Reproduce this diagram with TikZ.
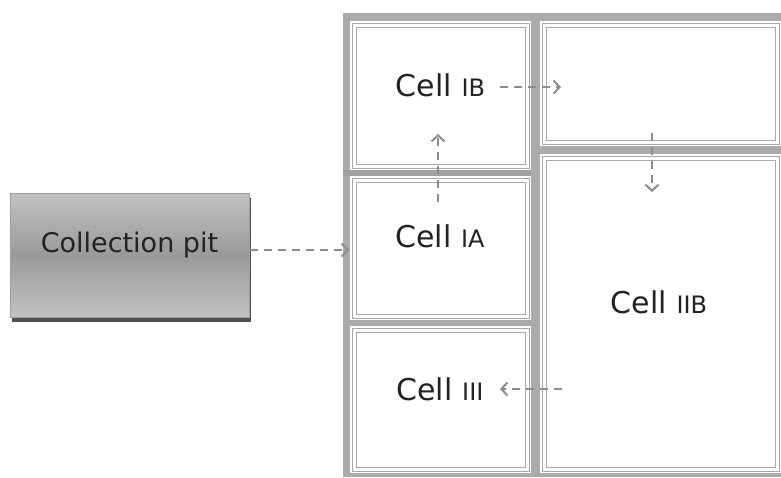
\documentclass[tikz,border=0pt]{standalone}
\usepackage{fontspec}
\setmainfont{DejaVu Sans}
\usetikzlibrary{arrows.meta,shadows}

\definecolor{framegray}{HTML}{ABABAB}
\definecolor{banddark}{HTML}{A0A0A0}
\definecolor{cellline}{HTML}{A8A8A8}
\definecolor{flowgray}{HTML}{8C8C8C}
\definecolor{pitedge}{HTML}{9E9E9E}
\definecolor{pitlight}{HTML}{C2C2C2}
\definecolor{pitdark}{HTML}{9A9A9A}
\definecolor{pitshadow}{HTML}{505050}
\definecolor{inktext}{HTML}{222222}

\newcommand\smallcap[1]{{\fontsize{24}{24}\selectfont #1}}

\begin{document}
\begin{tikzpicture}[x=1pt,y=-1pt,
  cellbox/.style={draw=cellline, line width=1pt, double=white,
    double distance=3pt, inner sep=0pt, outer sep=0pt},
  celltext/.style={anchor=base, inner sep=0pt, text=inktext,
    font=\fontsize{30}{36}\selectfont},
  pitbox/.style={draw=pitedge, line width=1pt,
    top color=pitlight, bottom color=pitlight, middle color=pitdark,
    drop shadow={shadow xshift=2pt, shadow yshift=-5pt,
      fill=pitshadow, opacity=1},
    minimum width=239pt, minimum height=124pt, inner sep=0pt,
    text height=20pt, text depth=26pt, text=inktext,
    font=\fontsize{27}{32}\selectfont},
  flow/.style={draw=flowgray, line width=2pt, dash pattern=on 8pt off 6pt,
    -{Straight Barb[length=6pt, width=13pt]}}
]
\useasboundingbox (0,0) rectangle (781,477);

% grey tank frame with the white cell areas cut into it
\fill[framegray] (343,13) rectangle (781,477);
\fill[banddark] (343,170) rectangle (531,176);
\fill[white] (350,21) rectangle (531,170);
\fill[white] (350,176) rectangle (531,320);
\fill[white] (350,326) rectangle (531,473);
\fill[white] (540,21) rectangle (781,146);
\fill[white] (540,154) rectangle (781,473);

% cells with their double inner outline
\node[cellbox, minimum width=173pt, minimum height=141pt] (ib)   at (440.5,95.5) {};
\node[cellbox, minimum width=173pt, minimum height=136pt] (ia)   at (440.5,248) {};
\node[cellbox, minimum width=173pt, minimum height=139pt] (iii)  at (440.5,399.5) {};
\node[cellbox, minimum width=233pt, minimum height=117pt] (iia)  at (660.5,83.5) {};
\node[cellbox, minimum width=233pt, minimum height=311pt] (iib)  at (660.5,313.5) {};

% cell names
\node[celltext] (tib)  at (440.5,96)  {Cell \smallcap{IB}};
\node[celltext] (tia)  at (440,247)   {Cell \smallcap{IA}};
\node[celltext] (tiib) at (659,313)   {Cell \smallcap{IIB}};
\node[celltext] (tiii) at (440,400)   {Cell \smallcap{III}};

% collection pit
\node[pitbox] (pit) at (129.5,255) {Collection pit};

% flow path
\coordinate (pitin)  at (349,250);
\coordinate (ibout)  at (500,87);
\coordinate (iain)   at (561,87);
\coordinate (iaup)   at (438,202);
\coordinate (ibin)   at (438,134);
\coordinate (iiatop) at (652,133);
\coordinate (iibin)  at (652,192);
\coordinate (iibout) at (562,389);
\coordinate (iiiin)  at (500,389);

\draw[flow] ([yshift=5pt]pit.east) -- (pitin);
\draw[flow] (ibout) -- (iain);
\draw[flow] (iaup) -- (ibin);
\draw[flow] (iiatop) -- (iibin);
\draw[flow] (iibout) -- (iiiin);
\end{tikzpicture}
\end{document}
